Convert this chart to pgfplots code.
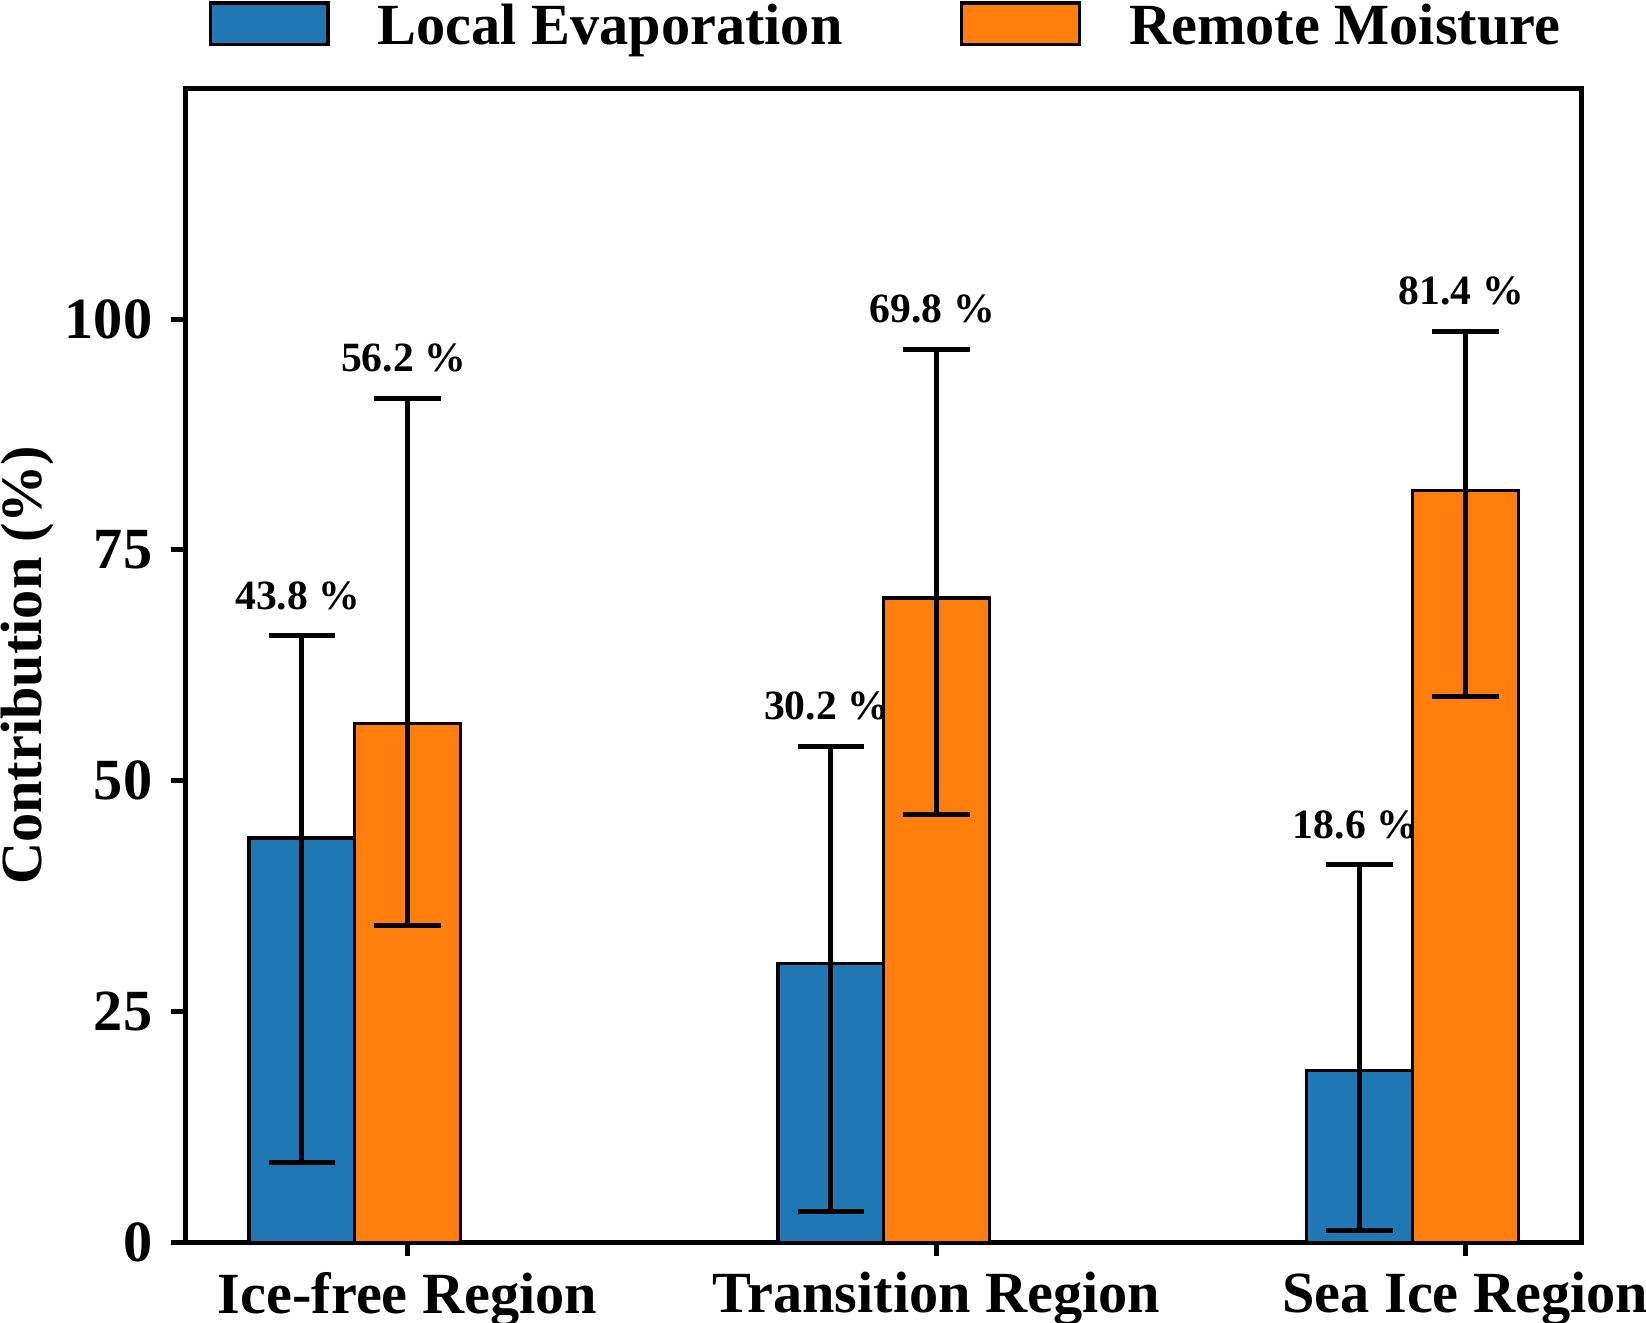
\documentclass[border=0pt]{standalone}
\usepackage{fontspec}
\setmainfont{Liberation Serif}
\usepackage{pgfplots}
\pgfplotsset{compat=1.18}
\usepackage{pgfplotstable}
\definecolor{tabblue}{HTML}{1F77B4}
\definecolor{taborange}{HTML}{FF7F0E}

\pgfplotstableread{
x y ep em
-0.2 43.8 21.9 35.2
0.8 30.2 23.5 26.9
1.8 18.6 22.3 17.3
}\localtab
\pgfplotstableread{
x y ep em
0 56.2 35.2 21.9
1 69.8 26.9 23.5
2 81.4 17.3 22.3
}\remotetab
\pgfplotstableread[col sep=comma]{
x,y,label
-0.2,65.7,43.8 \%
0.8,53.7,30.2 \%
1.8,40.9,18.6 \%
0,91.4,56.2 \%
1,96.7,69.8 \%
2,98.7,81.4 \%
}\labtab

\newcommand{\bigf}{\fontsize{14bp}{16bp}\selectfont\bfseries}
\newcommand{\smallf}{\fontsize{10bp}{12bp}\selectfont\bfseries}

\begin{document}
\begin{tikzpicture}
\begin{axis}[
  name=ax,
  scale only axis, width=335.2bp, height=277.05bp,
  xmin=-0.42, xmax=2.22, ymin=0, ymax=125,
  xtick={0,1,2},
  xticklabels={Ice-free Region, Transition Region, Sea Ice Region},
  ytick={0,25,50,75,100},
  axis line style={line width=1.2bp},
  every tick/.style={line width=1.2bp, black},
  major tick length=3.4bp,
  tick align=outside, xtick pos=bottom, ytick pos=left,
  /pgf/number format/assume math mode=true,
  tick label style={font=\bigf},
  xticklabel style={inner sep=0pt, anchor=north, yshift=-3.6bp},
  yticklabel style={inner sep=0pt, anchor=east, xshift=-4.4bp},
  ylabel={Contribution (\%)},
  ylabel style={font=\bigf, at={(axis description cs:-0.1328,0.5)}, anchor=north, inner sep=0pt},
  legend columns=2,
  legend style={at={(axis description cs:0.5,1)}, anchor=south, xshift=0.2bp, yshift=8.8bp,
    draw=none, fill=none, inner sep=0pt, column sep=0pt, row sep=0pt, font=\bigf,
    /tikz/every odd column/.append style={column sep=11.5bp},
    /tikz/every even column/.append style={column sep=28.2bp},
    cells={anchor=base west}, nodes={inner sep=0pt}},
]
\addplot[ybar, bar width=0.2, bar shift=0pt, fill=tabblue, draw=black, line width=0.8bp,
  legend image code/.code={\draw[fill=tabblue, draw=black, line width=0.8bp] (0bp,0bp) rectangle (28.3bp,10bp);},
  error bars/.cd, y dir=both, y explicit,
  error bar style={line width=1.2bp, black},
  error mark options={rotate=90, mark size=7.96bp, line width=1.2bp, black}]
  table[x=x, y=y, y error plus=ep, y error minus=em] {\localtab};
\addlegendentry{Local Evaporation}
\addplot[ybar, bar width=0.2, bar shift=0pt, fill=taborange, draw=black, line width=0.8bp,
  legend image code/.code={\draw[fill=taborange, draw=black, line width=0.8bp] (0bp,0bp) rectangle (28.3bp,10bp);},
  error bars/.cd, y dir=both, y explicit,
  error bar style={line width=1.2bp, black},
  error mark options={rotate=90, mark size=7.96bp, line width=1.2bp, black}]
  table[x=x, y=y, y error plus=ep, y error minus=em] {\remotetab};
\addlegendentry{Remote Moisture}
\addplot[draw=none, mark=none, forget plot, nodes near coords, point meta=explicit symbolic,
  nodes near coords style={anchor=base, yshift=6.4bp, xshift=-1bp, font=\smallf, inner sep=0pt}]
  table[x=x, y=y, meta=label] {\labtab};
\end{axis}
\pgfresetboundingbox
\path[use as bounding box] ([xshift=-44.54bp,yshift=-19.32bp]ax.south west) rectangle ([xshift=15.43bp,yshift=21.19bp]ax.north east);
\end{tikzpicture}
\end{document}
